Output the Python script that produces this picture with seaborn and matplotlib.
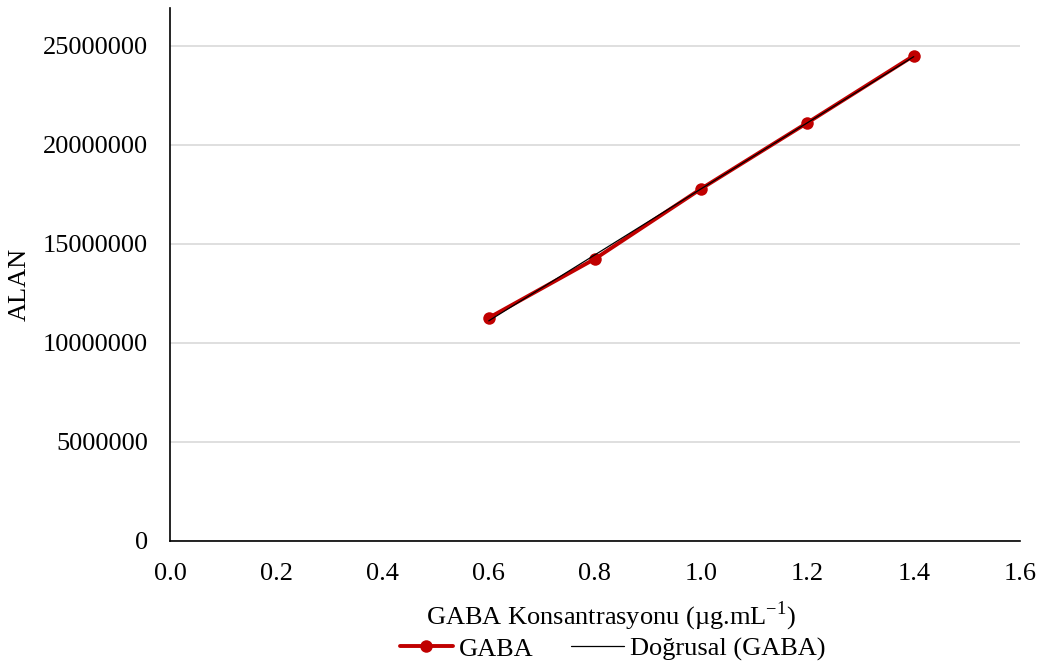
import numpy as np
import pandas as pd
import matplotlib
matplotlib.use("Agg")
import matplotlib.pyplot as plt
import seaborn as sns

# ==========================
# DATA
# ==========================
konsantrasyon = [0.6, 0.8, 1.0, 1.2, 1.4]
alan = [11260000, 14240000, 17780000, 21110000, 24490000]
x_ticks = [0.0, 0.2, 0.4, 0.6, 0.8, 1.0, 1.2, 1.4, 1.6]
y_ticks = [0, 5000000, 10000000, 15000000, 20000000, 25000000]

df = pd.DataFrame({"x": konsantrasyon, "y": alan})

# linear trendline (Excel "Doğrusal")
slope, intercept = np.polyfit(df["x"], df["y"], 1)
df["trend"] = slope * df["x"] + intercept

# ==========================
# PLOT
# ==========================
sns.set_style("white")
plt.rcParams["font.family"] = ["Liberation Serif", "DejaVu Serif"]
plt.rcParams["text.color"] = "black"
plt.rcParams["xtick.color"] = "black"
plt.rcParams["ytick.color"] = "black"
plt.rcParams["axes.labelcolor"] = "black"

fig = plt.figure(figsize=(10.39, 6.65), dpi=100)
ax = fig.add_axes([0.1636, 0.1865, 0.8181, 0.8015])

sns.lineplot(data=df, x="x", y="y", ax=ax, color="#C00000", linewidth=2.8,
             marker="o", markersize=9, markeredgewidth=0, label="GABA", zorder=3)
sns.lineplot(data=df, x="x", y="trend", ax=ax, color="black", linewidth=0.9,
             label="Doğrusal (GABA)", zorder=4)

ax.set_xlim(0, 1.6)
ax.set_ylim(0, 26.9e6)
ax.set_xticks(x_ticks)
ax.set_xticklabels([f"{v:.1f}" for v in x_ticks])
ax.set_yticks(y_ticks)
ax.set_yticklabels([str(v) for v in y_ticks])
ax.yaxis.grid(True, color="#D9D9D9", linewidth=1.2)
ax.set_axisbelow(True)

for s in ["top", "right"]:
    ax.spines[s].set_visible(False)
for s in ["left", "bottom"]:
    ax.spines[s].set_color("black")
    ax.spines[s].set_linewidth(1.2)

ax.tick_params(axis="both", length=0, labelsize=19)
ax.tick_params(axis="y", pad=16)
ax.tick_params(axis="x", pad=16)
ax.set_xlabel("GABA Konsantrasyonu (µg.mL$^{\\mathregular{-1}}$)", fontsize=19)
ax.set_ylabel("ALAN", fontsize=19)
ax.xaxis.set_label_coords(0.519, -0.109)
ax.yaxis.set_label_coords(-0.1635, 0.482)

ax.legend(loc="upper center", bbox_to_anchor=(0.521, -0.136), ncol=2, frameon=False,
          fontsize=19, handlelength=2.0, handletextpad=0.25, columnspacing=1.4)

fig.savefig("out.png", dpi=100)
